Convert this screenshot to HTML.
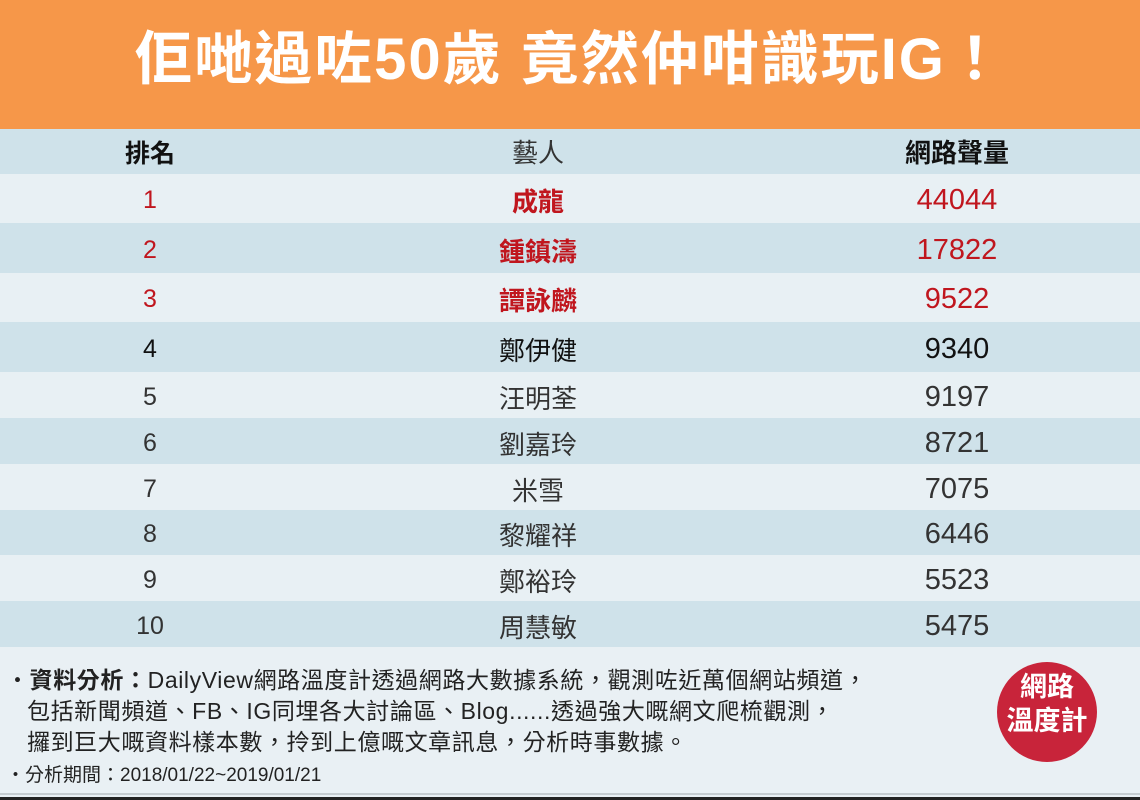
<!DOCTYPE html>
<html><head><meta charset="utf-8"><style>
body{margin:0;width:1140px;height:800px;overflow:hidden;background:#e9f0f4;font-family:"Liberation Sans","Noto Sans CJK TC",sans-serif;position:relative}
.title{position:absolute;left:0;top:0;width:1140px;height:129px;background:#f69749;color:#fff;font-weight:bold;font-size:58px;text-align:center;line-height:120px;letter-spacing:2px}
.row{position:absolute;left:0;width:1140px}
.row div{position:absolute;top:2px;height:100%;display:flex;align-items:center;justify-content:center}
.c1{left:50px;width:200px;font-size:25px}
.c2{left:388px;width:300px;font-size:26px}
.c3{left:857px;width:200px;font-size:29px}
.a{background:#e8f0f4}.b{background:#cfe2ea}
.red{color:#c0161e}.red .c2{font-weight:bold}.blk{color:#111}.g{color:#333}
.foot{position:absolute;left:6px;top:665px;font-size:23px;color:#222;line-height:31px;letter-spacing:0.6px}
.logo{position:absolute;left:997px;top:662px;width:100px;height:100px;border-radius:50%;background:#c8243a;color:#fff;font-size:27px;font-weight:bold;text-align:center;line-height:34px;padding-top:8px;box-sizing:border-box}
</style></head><body>
<div class="title">佢哋過咗50歲 竟然仲咁識玩IG！</div>
<div class="row b" style="top:129px;height:45px"><div class="c1" style="font-weight:bold;color:#111;top:0">排名</div><div class="c2" style="color:#333;top:0">藝人</div><div class="c3" style="font-size:26px;font-weight:bold;color:#111;top:0">網路聲量</div></div>
<div class="row a red" style="top:174px;height:49px"><div class="c1">1</div><div class="c2">成龍</div><div class="c3">44044</div></div>
<div class="row b red" style="top:223px;height:50px"><div class="c1">2</div><div class="c2">鍾鎮濤</div><div class="c3">17822</div></div>
<div class="row a red" style="top:273px;height:49px"><div class="c1">3</div><div class="c2">譚詠麟</div><div class="c3">9522</div></div>
<div class="row b blk" style="top:322px;height:50px"><div class="c1">4</div><div class="c2">鄭伊健</div><div class="c3">9340</div></div>
<div class="row a g" style="top:372px;height:46px"><div class="c1">5</div><div class="c2">汪明荃</div><div class="c3">9197</div></div>
<div class="row b g" style="top:418px;height:46px"><div class="c1">6</div><div class="c2">劉嘉玲</div><div class="c3">8721</div></div>
<div class="row a g" style="top:464px;height:46px"><div class="c1">7</div><div class="c2">米雪</div><div class="c3">7075</div></div>
<div class="row b g" style="top:510px;height:45px"><div class="c1">8</div><div class="c2">黎耀祥</div><div class="c3">6446</div></div>
<div class="row a g" style="top:555px;height:46px"><div class="c1">9</div><div class="c2">鄭裕玲</div><div class="c3">5523</div></div>
<div class="row b g" style="top:601px;height:46px"><div class="c1">10</div><div class="c2">周慧敏</div><div class="c3">5475</div></div>
<div class="foot">・<b>資料分析：</b>DailyView網路溫度計透過網路大數據系統，觀測咗近萬個網站頻道，<br>&nbsp;&nbsp;&nbsp;包括新聞頻道、FB、IG同埋各大討論區、Blog......透過強大嘅網文爬梳觀測，<br>&nbsp;&nbsp;&nbsp;攞到巨大嘅資料樣本數，拎到上億嘅文章訊息，分析時事數據。<br><span style="font-size:19px;letter-spacing:0">・分析期間：2018/01/22~2019/01/21</span></div>
<div class="logo">網路<br>溫度計</div>
<div style="position:absolute;left:0;top:793px;width:1140px;height:2px;background:#c5ccd0"></div>
<div style="position:absolute;left:0;top:797px;width:1140px;height:3px;background:#222"></div>
</body></html>
